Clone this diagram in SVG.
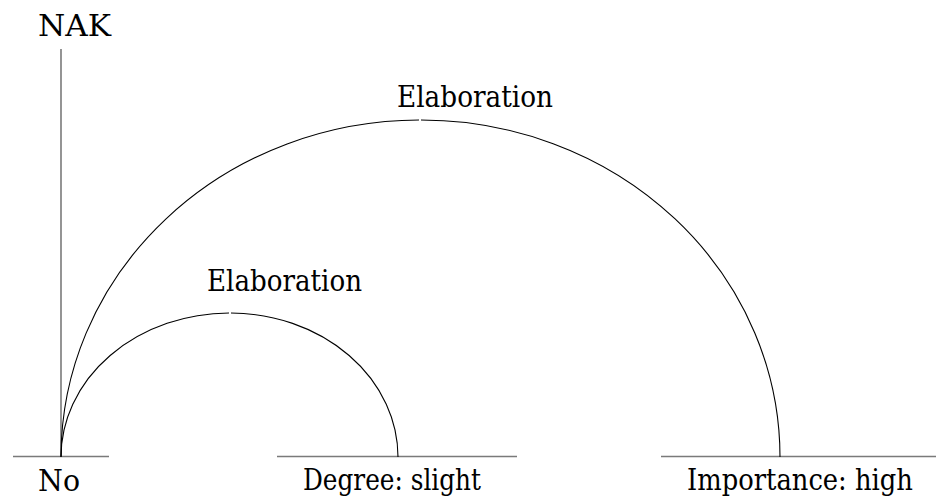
<svg xmlns="http://www.w3.org/2000/svg" width="936" height="499" viewBox="0 0 936 499">
<style>
text{font-family:'DejaVu Serif','Liberation Serif','Noto Serif','Times New Roman',serif;font-size:29px;fill:#000}
.span{stroke:#7a7a7a;stroke-width:1.6;fill:none}
.arc{stroke:#000;stroke-width:1.1;fill:none}
</style>
<rect width="936" height="499" fill="#fff"/>
<g id="node-nak">
<text x="38" y="36" textLength="73" lengthAdjust="spacingAndGlyphs">NAK</text>
<line class="span" x1="61" y1="49" x2="61" y2="457"/>
</g>
<g id="node-no">
<line class="span" x1="13" y1="456.5" x2="109" y2="456.5"/>
<text x="38" y="491" textLength="42" lengthAdjust="spacingAndGlyphs">No</text>
</g>
<g id="node-degree">
<line class="span" x1="277" y1="456.5" x2="517" y2="456.5"/>
<text x="303" y="490" textLength="178" lengthAdjust="spacingAndGlyphs">Degree: slight</text>
</g>
<g id="node-importance">
<line class="span" x1="661" y1="456.5" x2="936" y2="456.5"/>
<text x="687" y="490" textLength="226" lengthAdjust="spacingAndGlyphs">Importance: high</text>
</g>
<g id="connectors">
<path class="arc" d="M61,457 A169,144 0 0 1 229,313"/>
<path class="arc" d="M231,313 A168,144 0 0 1 398,457"/>
<text x="207" y="291" textLength="155" lengthAdjust="spacingAndGlyphs">Elaboration</text>
<path class="arc" d="M61,457 A359,337 0 0 1 419,120"/>
<path class="arc" d="M421,120 A359,337 0 0 1 780,457"/>
<text x="397" y="107" textLength="156" lengthAdjust="spacingAndGlyphs">Elaboration</text>
</g>
</svg>
